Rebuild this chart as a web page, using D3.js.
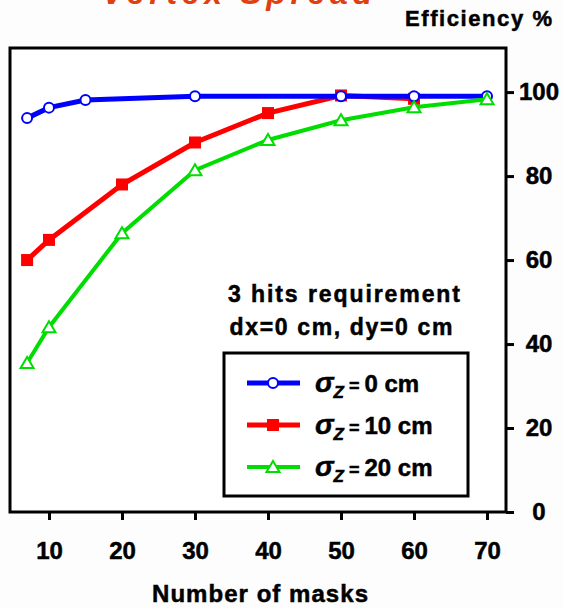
<!DOCTYPE html>
<html>
<head>
<meta charset="utf-8">
<script src="https://cdn.jsdelivr.net/npm/d3@7"></script>
<style>
  body { margin: 0; background: #fdfdfd; }
  svg { display: block; font-family: "Liberation Sans", Arial, sans-serif; font-weight: bold; }
  .ink { stroke: #000; stroke-width: 0.5px; }
</style>
</head>
<body>
<div id="chart"></div>
<script>
// masks (x) and efficiency % (y) for each vertex spread
const masksSigma0 = [7, 10, 15, 30, 50, 60, 70];
const effSigma0 = [93.8, 96.3, 98.1, 99, 99, 99, 99];
const masksSigma10 = [7, 10, 20, 30, 40, 50, 60];
const effSigma10 = [60, 64.8, 78, 88, 95, 99.2, 98.4];
const masksSigma20 = [7, 10, 20, 30, 40, 50, 60, 70];
const effSigma20 = [35.5, 44, 66.4, 81.4, 88.6, 93.3, 96.4, 98.3];
const seriesLabels = ["0 cm", "10 cm", "20 cm"];
const xTicks = [10, 20, 30, 40, 50, 60, 70];
const yTicks = [0, 20, 40, 60, 80, 100];

const W = 563, H = 608;
const frame = {left: 10, right: 506, top: 48, bottom: 512};

const svg = d3.select("#chart").append("svg")
    .attr("width", W)
    .attr("height", H);

const x = d3.scaleLinear().domain([4.66, 72.6]).range([frame.left, frame.right]);
const y = d3.scaleLinear().domain([0, 110.5]).range([frame.bottom, frame.top]);

// title, cut off at the top like the slide it came from
svg.append("text")
    .attr("x", 102).attr("y", 4)
    .attr("font-size", 32)
    .attr("font-style", "italic")
    .attr("fill", "#e0400f")
    .attr("textLength", 270)
    .text("Vertex Spread");

svg.append("text")
    .attr("class", "ink")
    .attr("x", 405).attr("y", 26)
    .attr("font-size", 22)
    .attr("textLength", 147)
    .text("Efficiency %");

// frame
svg.append("rect")
    .attr("x", frame.left).attr("y", frame.top)
    .attr("width", frame.right - frame.left)
    .attr("height", frame.bottom - frame.top)
    .attr("fill", "#ffffff")
    .attr("stroke", "#000")
    .attr("stroke-width", 3);

// axes
const xAxis = svg.append("g")
    .attr("transform", `translate(0,${frame.bottom})`)
    .call(d3.axisBottom(x).tickValues(xTicks).tickSize(8).tickPadding(22));
const yAxis = svg.append("g")
    .attr("transform", `translate(${frame.right},0)`)
    .call(d3.axisRight(y).tickValues(yTicks).tickSize(8).tickPadding(16));

[xAxis, yAxis].forEach(a => {
    a.select(".domain").remove();
    a.selectAll(".tick line").attr("stroke", "#000").attr("stroke-width", 3);
    a.selectAll(".tick text")
        .attr("class", "ink")
        .attr("fill", "#000")
        .attr("font-size", 24)
        .attr("font-family", "Liberation Sans, Arial, sans-serif")
        .attr("font-weight", "bold");
});
yAxis.selectAll(".tick text").attr("text-anchor", "middle").attr("x", 33);

svg.append("text")
    .attr("class", "ink")
    .attr("x", 260).attr("y", 602)
    .attr("text-anchor", "middle")
    .attr("font-size", 24)
    .attr("textLength", 216)
    .text("Number of masks");

// series, red first so the blue curve sits over it
const series = [
    {masks: masksSigma10, eff: effSigma10, color: "#ff0000", width: 5, marker: "square", label: seriesLabels[1]},
    {masks: masksSigma0, eff: effSigma0, color: "#0000ff", width: 5, marker: "circle", label: seriesLabels[0]},
    {masks: masksSigma20, eff: effSigma20, color: "#00dd00", width: 4, marker: "triangle", label: seriesLabels[2]}
];

const line = d3.line().x(d => x(d[0])).y(d => y(d[1]));

function drawMarker(g, kind, color) {
    if (kind === "circle") {
        g.append("circle").attr("r", 5)
            .attr("fill", "#fff").attr("stroke", color).attr("stroke-width", 2);
    } else if (kind === "square") {
        g.append("rect").attr("x", -6).attr("y", -6).attr("width", 12).attr("height", 12)
            .attr("fill", color);
    } else {
        g.append("path").attr("d", "M0,-6L6.5,5L-6.5,5Z")
            .attr("fill", "#fff").attr("stroke", color).attr("stroke-width", 2);
    }
}

series.forEach(s => {
    const pts = s.masks.map((m, i) => [m, s.eff[i]]);
    svg.append("path")
        .attr("d", line(pts))
        .attr("fill", "none")
        .attr("stroke", s.color)
        .attr("stroke-width", s.width);
    pts.forEach(p => {
        const g = svg.append("g").attr("transform", `translate(${x(p[0])},${y(p[1])})`);
        drawMarker(g, s.marker, s.color);
    });
});

// annotation
svg.append("text")
    .attr("class", "ink")
    .attr("x", 344).attr("y", 302)
    .attr("text-anchor", "middle")
    .attr("font-size", 23)
    .attr("textLength", 232)
    .text("3 hits requirement");
svg.append("text")
    .attr("class", "ink")
    .attr("x", 341).attr("y", 335)
    .attr("text-anchor", "middle")
    .attr("font-size", 23)
    .attr("textLength", 223)
    .text("dx=0 cm, dy=0 cm");

// legend
const legend = svg.append("g");
legend.append("rect")
    .attr("x", 224).attr("y", 353)
    .attr("width", 244).attr("height", 143)
    .attr("fill", "#fff")
    .attr("stroke", "#000")
    .attr("stroke-width", 3);

const legendOrder = [series[1], series[0], series[2]];
legendOrder.forEach((s, i) => {
    const cy = 383 + i * 42;
    legend.append("line")
        .attr("x1", 247).attr("x2", 300)
        .attr("y1", cy).attr("y2", cy)
        .attr("stroke", s.color)
        .attr("stroke-width", s.width);
    const g = legend.append("g").attr("transform", `translate(273,${cy})`);
    drawMarker(g, s.marker, s.color);
    const t = legend.append("text")
        .attr("class", "ink")
        .attr("x", 315).attr("y", cy + 9)
        .attr("font-size", 24);
    t.append("tspan").attr("font-style", "italic").attr("font-size", 28).text("σ");
    t.append("tspan").attr("font-style", "italic").attr("font-size", 17).attr("dy", 6).text("Z");
    t.append("tspan").attr("dy", -6).attr("font-size", 18).text(" = ");
    t.append("tspan").text(s.label);
});
</script>
</body>
</html>
